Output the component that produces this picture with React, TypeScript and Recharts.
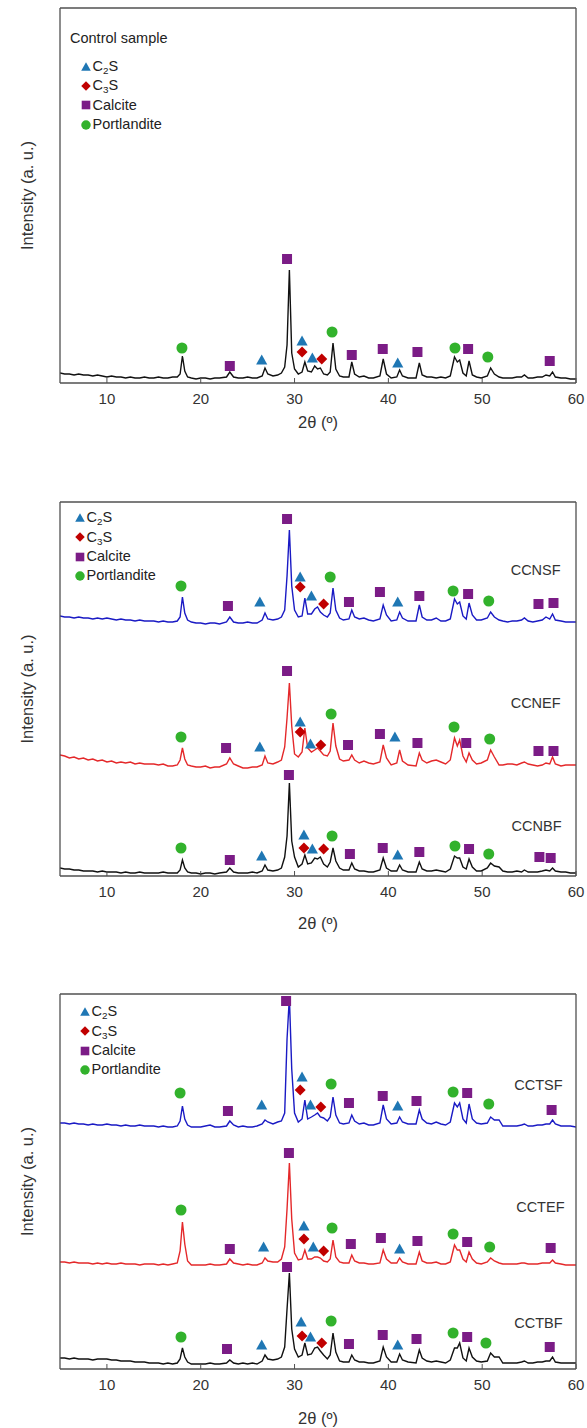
import React from 'react';
import { ComposedChart, Line, Scatter, XAxis, YAxis, Legend } from 'recharts';

const FONT = '"Liberation Sans", Arial, Helvetica, sans-serif';
const FRAME = '#505050';

// 2θ grid shared by every diffractogram
const TWO_THETA = [
  5, 5.5, 6, 6.5, 7, 7.5, 8, 8.5, 9, 9.5,
  10, 10.5, 11, 11.5, 12, 12.5, 13, 13.5, 14, 14.5,
  15, 15.5, 16, 16.5, 17, 17.5, 17.8, 18.05, 18.3, 18.6,
  19, 19.5, 20, 20.5, 21, 21.5, 22, 22.75, 23.1, 23.5,
  24, 24.5, 25, 25.5, 26, 26.55, 26.85, 27.15, 27.7, 28.2,
  28.6, 28.95, 29.2, 29.45, 29.7, 30, 30.4, 30.8, 31.1, 31.4,
  31.8, 32.15, 32.45, 32.75, 33.1, 33.5, 33.8, 34.1, 34.4, 34.8,
  35.2, 35.8, 36.1, 36.4, 36.9, 37.4, 37.9, 38.4, 39.1, 39.45,
  39.8, 40.3, 40.9, 41.2, 41.5, 42.1, 42.95, 43.3, 43.6, 44.1,
  44.6, 45.1, 45.6, 46.1, 46.6, 47.05, 47.35, 47.6, 47.95, 48.3,
  48.6, 48.95, 49.4, 49.9, 50.55, 50.9, 51.3, 51.8, 52.2, 52.7,
  53.2, 53.7, 54.2, 54.5, 54.9, 55.4, 55.9, 56.4, 56.8, 57.2,
  57.5, 57.8, 58.4, 58.9, 59.4, 60,
];

// intensities (a. u.), stacked patterns already include their vertical offset
const CONTROL = [
  10, 9, 9, 8, 9, 8, 8, 7, 8, 7,
  6, 7, 6, 6, 5, 6, 5, 5, 6, 5,
  5, 6, 5, 5, 6, 6, 9, 27, 12, 6,
  5, 4, 5, 5, 4, 5, 5, 6, 11, 6,
  5, 5, 6, 5, 5, 7, 15, 9, 7, 8,
  10, 16, 38, 113, 30, 14, 9, 11, 21, 12,
  11, 17, 14, 15, 9, 8, 11, 40, 14, 7,
  6, 6, 21, 9, 6, 7, 5, 5, 7, 24,
  9, 5, 6, 13, 7, 5, 5, 20, 8, 6,
  6, 5, 6, 5, 7, 26, 21, 23, 10, 7,
  22, 8, 6, 5, 7, 15, 9, 6, 5, 5,
  5, 6, 6, 8, 5, 5, 6, 6, 8, 7,
  11, 6, 5, 5, 4, 4,
];

const CCNSF = [
  260, 259, 259, 258, 259, 258, 258, 257, 258, 257,
  258, 257, 256, 257, 256, 256, 255, 256, 255, 255,
  255, 254, 255, 254, 254, 255, 259, 279, 263, 256,
  254, 253, 253, 252, 253, 253, 252, 254, 259, 254,
  253, 253, 254, 253, 253, 256, 263, 257, 256, 257,
  259, 266, 300, 346, 290, 266, 259, 260, 278, 262,
  262, 267, 269, 264, 261, 259, 263, 288, 266, 258,
  256, 257, 266, 259, 257, 258, 256, 255, 257, 271,
  261, 255, 256, 264, 258, 255, 255, 271, 259, 256,
  256, 258, 255, 255, 257, 277, 272, 274, 260, 257,
  273, 261, 256, 256, 258, 264, 259, 256, 255, 254,
  255, 255, 256, 258, 255, 254, 255, 256, 259, 257,
  262, 256, 255, 254, 254, 254,
];

const CCNEF = [
  121, 120, 118, 119, 117, 118, 116, 117, 115, 116,
  114, 115, 113, 114, 113, 114, 112, 113, 112, 112,
  112, 111, 112, 110, 110, 111, 116, 128, 117, 111,
  110, 109, 109, 110, 108, 109, 109, 112, 118, 112,
  110, 108, 108, 109, 109, 111, 120, 113, 112, 114,
  116, 129, 158, 193, 150, 122, 119, 124, 148, 128,
  124, 126, 128, 125, 121, 120, 125, 153, 130, 117,
  115, 116, 121, 116, 113, 115, 113, 112, 114, 131,
  118, 111, 113, 126, 115, 111, 110, 123, 116, 113,
  115, 116, 114, 112, 116, 138, 130, 136, 120, 114,
  123, 116, 112, 113, 116, 126, 119, 111, 111, 112,
  112, 111, 113, 114, 112, 111, 110, 111, 113, 112,
  119, 112, 110, 111, 111, 111,
];

const CCNBF = [
  8, 7, 7, 6, 6, 5, 5, 5, 4, 5,
  4, 4, 4, 3, 4, 3, 3, 4, 3, 3,
  3, 3, 4, 3, 3, 3, 6, 16, 8, 4,
  3, 3, 2, 3, 3, 2, 3, 4, 8, 4,
  3, 3, 3, 4, 3, 5, 11, 6, 5, 6,
  8, 19, 40, 93, 35, 19, 9, 12, 21, 12,
  13, 18, 17, 19, 12, 9, 14, 28, 15, 8,
  6, 6, 13, 7, 5, 5, 4, 4, 6, 18,
  8, 5, 5, 11, 6, 4, 4, 14, 7, 5,
  5, 6, 5, 4, 7, 20, 18, 18, 9, 7,
  17, 9, 5, 5, 8, 13, 10, 9, 5, 4,
  4, 5, 4, 6, 4, 4, 4, 5, 6, 5,
  8, 5, 4, 4, 3, 3,
];

const CCTSF = [
  246, 246, 245, 246, 245, 245, 244, 245, 244, 244,
  245, 244, 244, 243, 244, 243, 243, 244, 243, 243,
  243, 242, 243, 242, 242, 243, 248, 263, 250, 244,
  242, 242, 242, 243, 244, 242, 242, 243, 248, 244,
  242, 243, 242, 242, 243, 245, 249, 247, 245, 247,
  248, 256, 330, 372, 300, 256, 247, 250, 269, 250,
  252, 254, 256, 252, 251, 248, 252, 272, 254, 246,
  245, 246, 254, 248, 245, 246, 244, 244, 246, 264,
  250, 245, 246, 252, 247, 245, 245, 259, 250, 246,
  245, 247, 245, 244, 247, 266, 262, 266, 250, 246,
  265, 250, 246, 245, 246, 252, 249, 249, 243, 243,
  243, 243, 244, 245, 243, 243, 244, 244, 245, 245,
  249, 245, 243, 243, 243, 242,
];

const CCTEF = [
  107, 107, 106, 107, 106, 106, 106, 105, 106, 105,
  106, 105, 105, 106, 105, 105, 105, 104, 105, 105,
  105, 104, 105, 104, 105, 106, 118, 147, 125, 108,
  104, 104, 104, 104, 105, 104, 104, 105, 110, 106,
  105, 104, 105, 104, 104, 106, 111, 108, 107, 107,
  110, 122, 160, 206, 150, 116, 109, 110, 119, 110,
  110, 112, 112, 111, 108, 107, 110, 129, 112, 107,
  106, 106, 114, 108, 106, 106, 105, 105, 106, 119,
  110, 106, 106, 111, 107, 105, 105, 117, 108, 106,
  106, 107, 105, 105, 107, 124, 119, 119, 110, 107,
  117, 110, 106, 105, 107, 111, 108, 106, 105, 105,
  105, 105, 106, 106, 105, 105, 105, 106, 106, 106,
  109, 106, 105, 104, 104, 104,
];

const CCTBF = [
  11, 11, 10, 11, 10, 10, 10, 9, 10, 10,
  10, 9, 9, 8, 8, 8, 7, 7, 7, 6,
  6, 6, 5, 6, 5, 6, 10, 21, 12, 7,
  5, 5, 5, 5, 6, 5, 5, 6, 9, 6,
  5, 6, 5, 6, 5, 8, 14, 10, 9, 10,
  12, 22, 60, 96, 40, 20, 12, 14, 26, 14,
  15, 21, 22, 18, 14, 10, 14, 36, 17, 8,
  7, 7, 14, 9, 7, 7, 6, 6, 8, 22,
  12, 7, 7, 15, 9, 7, 6, 19, 11, 8,
  7, 8, 7, 6, 9, 21, 21, 26, 11, 8,
  21, 12, 8, 7, 8, 16, 12, 12, 6, 6,
  6, 6, 7, 8, 6, 6, 7, 7, 8, 8,
  12, 7, 6, 6, 6, 6,
];

const MAJOR_TICKS = [10, 20, 30, 40, 50, 60];
const MINOR_TICKS = [6, 8, 12, 14, 16, 18, 22, 24, 26, 28, 32, 34, 36, 38, 42, 44, 46, 48, 52, 54, 56, 58];

type Pt = [number, number];

// phase identification markers [2θ, height]
const CTRL_C2S: Pt[] = [[26.5, 23], [30.8, 42], [31.9, 25], [41.0, 20]];
const CTRL_C3S: Pt[] = [[30.8, 31], [32.9, 24]];
const CTRL_CAL: Pt[] = [[23.1, 17], [29.2, 124], [36.1, 28], [39.4, 34], [43.1, 31], [48.5, 34], [57.2, 22]];
const CTRL_POR: Pt[] = [[18.0, 35], [34.0, 51], [47.1, 35], [50.6, 26]];

const NSF_C2S: Pt[] = [[26.3, 274], [30.6, 299], [31.8, 280], [41.0, 274]];
const NSF_C3S: Pt[] = [[30.6, 289], [33.1, 272]];
const NSF_CAL: Pt[] = [[22.9, 270], [29.2, 357], [35.8, 274], [39.1, 284], [43.3, 280], [48.5, 282], [56.0, 272], [57.6, 273]];
const NSF_POR: Pt[] = [[17.9, 290], [33.8, 299], [46.9, 285], [50.7, 275]];
const NEF_C2S: Pt[] = [[26.3, 129], [30.6, 154], [31.7, 132], [40.7, 139]];
const NEF_C3S: Pt[] = [[30.6, 144], [32.8, 131]];
const NEF_CAL: Pt[] = [[22.7, 128], [29.2, 205], [35.7, 131], [39.1, 142], [43.1, 133], [48.3, 133], [56.0, 125], [57.6, 125]];
const NEF_POR: Pt[] = [[17.9, 139], [33.9, 162], [47.0, 149], [50.8, 137]];
const NBF_C2S: Pt[] = [[26.5, 20], [31.0, 41], [31.9, 27], [41.0, 21]];
const NBF_C3S: Pt[] = [[31.0, 28], [33.1, 27]];
const NBF_CAL: Pt[] = [[23.1, 16], [29.4, 101], [35.9, 22], [39.4, 28], [43.3, 24], [48.6, 27], [56.1, 19], [57.3, 18]];
const NBF_POR: Pt[] = [[17.9, 28], [34.0, 40], [47.1, 30], [50.7, 22]];

const TSF_C2S: Pt[] = [[26.5, 264], [30.8, 292], [31.7, 264], [41.0, 263]];
const TSF_C3S: Pt[] = [[30.6, 279], [32.8, 262]];
const TSF_CAL: Pt[] = [[22.9, 258], [29.1, 368], [35.8, 266], [39.4, 273], [43.0, 268], [48.4, 276], [57.4, 259]];
const TSF_POR: Pt[] = [[17.8, 276], [33.9, 285], [46.9, 277], [50.7, 265]];
const TEF_C2S: Pt[] = [[26.7, 122], [31.0, 143], [32.0, 122], [41.2, 120]];
const TEF_C3S: Pt[] = [[31.0, 130], [33.1, 118]];
const TEF_CAL: Pt[] = [[23.1, 120], [29.4, 216], [36.0, 125], [39.2, 131], [43.1, 128], [48.4, 127], [57.3, 121]];
const TEF_POR: Pt[] = [[17.9, 159], [34.0, 141], [46.9, 135], [50.8, 122]];
const TBF_C2S: Pt[] = [[26.5, 24], [30.7, 47], [31.7, 32], [41.0, 24]];
const TBF_C3S: Pt[] = [[30.8, 33], [32.9, 26]];
const TBF_CAL: Pt[] = [[22.8, 20], [29.2, 102], [35.8, 25], [39.4, 34], [43.0, 30], [48.4, 32], [57.2, 22]];
const TBF_POR: Pt[] = [[17.9, 32], [33.9, 48], [46.9, 36], [50.4, 26]];

const PHASE_NAMES = ['C2S', 'C3S', 'Calcite', 'Portlandite'];
type Kind = 'tri' | 'dia' | 'sq' | 'circ';
const PHASE_KINDS: Kind[] = ['tri', 'dia', 'sq', 'circ'];
const PHASE_COLORS = ['#1f77b4', '#c00000', '#7b1c86', '#32b22c'];

const SAMPLE_NAMES_N = ['CCNSF', 'CCNEF', 'CCNBF'];
const SAMPLE_NAMES_T = ['CCTSF', 'CCTEF', 'CCTBF'];
const LABEL_POS_N: Pt[] = [[55.7, 306], [55.7, 173], [55.8, 50]];
const LABEL_POS_T: Pt[] = [[56.0, 284], [56.2, 162], [56.0, 46]];

function PhaseMarker({ kind, cx, cy, s }: { kind: Kind; cx: number; cy: number; s: number }) {
  const color = PHASE_COLORS[PHASE_KINDS.indexOf(kind)];
  if (kind === 'tri') {
    return <polygon points={`${cx},${cy - 5.5 * s} ${cx + 5.6 * s},${cy + 4.5 * s} ${cx - 5.6 * s},${cy + 4.5 * s}`} fill={color} />;
  }
  if (kind === 'dia') {
    return <polygon points={`${cx},${cy - 5.5 * s} ${cx + 5.5 * s},${cy} ${cx},${cy + 5.5 * s} ${cx - 5.5 * s},${cy}`} fill={color} />;
  }
  if (kind === 'sq') {
    return <rect x={cx - 5 * s} y={cy - 5 * s} width={10 * s} height={10 * s} fill={color} />;
  }
  return <circle cx={cx} cy={cy} r={5.5 * s} fill={color} />;
}

function PhaseLabel({ name }: { name: string }) {
  const m = /^C(\d)S$/.exec(name);
  if (m) {
    return (
      <span>
        C<sub style={{ fontSize: '0.68em', verticalAlign: '-0.3em', lineHeight: 0 }}>{m[1]}</sub>S
      </span>
    );
  }
  return <span>{name}</span>;
}

function LegendBox({ title, indent }: { title?: string; indent: number }) {
  return (
    <div style={{ fontFamily: FONT, fontSize: 14.5, color: '#222', whiteSpace: 'nowrap' }}>
      {title ? <div style={{ height: 19.5, lineHeight: '19.5px', marginBottom: 8.2 }}>{title}</div> : null}
      {PHASE_NAMES.map((n, i) => (
        <div key={n} style={{ display: 'flex', alignItems: 'center', height: 19.3, paddingLeft: indent }}>
          <svg width={10} height={10} style={{ display: 'block', flex: 'none' }}>
            <PhaseMarker kind={PHASE_KINDS[i]} cx={5} cy={5} s={0.86} />
          </svg>
          <span style={{ marginLeft: 1.5, lineHeight: '19px' }}>
            <PhaseLabel name={n} />
          </span>
        </div>
      ))}
    </div>
  );
}

interface PanelCfg {
  top: number;
  height: number;
  plotTop: number;
  plotH: number;
  axisH: number;
  xTitleY: number;
  curves: { values: number[]; color: string }[];
  markers: Pt[][]; // per phase
  labels: { name: string; pos: Pt }[];
  legend: { left: number; top: number; title?: string; indent: number };
}

const PANELS: PanelCfg[] = [
  {
    top: 0, height: 440, plotTop: 8, plotH: 375, axisH: 57, xTitleY: 422,
    curves: [{ values: CONTROL, color: '#111111' }],
    markers: [CTRL_C2S, CTRL_C3S, CTRL_CAL, CTRL_POR],
    labels: [],
    legend: { left: 70, top: 29.3, title: 'Control sample', indent: 11 },
  },
  {
    top: 470, height: 470, plotTop: 32, plotH: 374, axisH: 64, xTitleY: 923 - 470,
    curves: [
      { values: CCNSF, color: '#1a1ac4' },
      { values: CCNEF, color: '#e4282a' },
      { values: CCNBF, color: '#111111' },
    ],
    markers: [
      [...NSF_C2S, ...NEF_C2S, ...NBF_C2S],
      [...NSF_C3S, ...NEF_C3S, ...NBF_C3S],
      [...NSF_CAL, ...NEF_CAL, ...NBF_CAL],
      [...NSF_POR, ...NEF_POR, ...NBF_POR],
    ],
    labels: SAMPLE_NAMES_N.map((name, i) => ({ name, pos: LABEL_POS_N[i] })),
    legend: { left: 75, top: 38.3, indent: 0 },
  },
  {
    top: 960, height: 468, plotTop: 34, plotH: 375, axisH: 59, xTitleY: 1418 - 960,
    curves: [
      { values: CCTSF, color: '#1a1ac4' },
      { values: CCTEF, color: '#e4282a' },
      { values: CCTBF, color: '#111111' },
    ],
    markers: [
      [...TSF_C2S, ...TEF_C2S, ...TBF_C2S],
      [...TSF_C3S, ...TEF_C3S, ...TBF_C3S],
      [...TSF_CAL, ...TEF_CAL, ...TBF_CAL],
      [...TSF_POR, ...TEF_POR, ...TBF_POR],
    ],
    labels: SAMPLE_NAMES_T.map((name, i) => ({ name, pos: LABEL_POS_T[i] })),
    legend: { left: 80, top: 42.3, indent: 0 },
  },
];

const CHART_W = 587;
const MARGIN_L = 60;
const MARGIN_R = 11;

function Panel({ cfg }: { cfg: PanelCfg }) {
  const plotCx = MARGIN_L + (CHART_W - MARGIN_L - MARGIN_R) / 2;
  const plotCy = cfg.plotTop + cfg.plotH / 2;
  const yTitle = () => (
    <text
      x={27}
      y={plotCy}
      transform={`rotate(-90 27 ${plotCy})`}
      textAnchor="middle"
      dominantBaseline="central"
      fill="#333"
      fontSize={16.5}
      fontFamily={FONT}
    >
      Intensity (a. u.)
    </text>
  );
  const xTitle = () => (
    <text x={plotCx} y={cfg.xTitleY} textAnchor="middle" dominantBaseline="central" fill="#333" fontSize={16.5} fontFamily={FONT}>
      2θ (º)
    </text>
  );
  const blank = () => '';
  return (
    <div style={{ position: 'absolute', left: 0, top: cfg.top, width: CHART_W, height: cfg.height }}>
      <ComposedChart
        width={CHART_W}
        height={cfg.height}
        margin={{ top: cfg.plotTop, right: MARGIN_R, left: MARGIN_L, bottom: 0 }}
      >
        <XAxis
          xAxisId="main"
          dataKey="x"
          type="number"
          domain={[5, 60]}
          allowDataOverflow
          ticks={MAJOR_TICKS}
          interval={0}
          height={cfg.axisH}
          tickSize={-5}
          tickMargin={15}
          axisLine={{ stroke: FRAME, strokeWidth: 1.3 }}
          tickLine={{ stroke: FRAME, strokeWidth: 1 }}
          tick={{ fill: '#333', fontSize: 15, fontFamily: FONT }}
          label={xTitle}
        />
        <XAxis
          xAxisId="minorB"
          type="number"
          domain={[5, 60]}
          allowDataOverflow
          ticks={MINOR_TICKS}
          interval={0}
          mirror
          height={1}
          tickSize={3}
          axisLine={false}
          tickLine={{ stroke: FRAME, strokeWidth: 1 }}
          tickFormatter={blank}
        />
        <XAxis
          xAxisId="majorT"
          orientation="top"
          type="number"
          domain={[5, 60]}
          allowDataOverflow
          ticks={MAJOR_TICKS}
          interval={0}
          mirror
          height={1}
          tickSize={5}
          axisLine={{ stroke: FRAME, strokeWidth: 1.3 }}
          tickLine={{ stroke: FRAME, strokeWidth: 1 }}
          tickFormatter={blank}
        />
        <XAxis
          xAxisId="minorT"
          orientation="top"
          type="number"
          domain={[5, 60]}
          allowDataOverflow
          ticks={MINOR_TICKS}
          interval={0}
          mirror
          height={1}
          tickSize={3}
          axisLine={false}
          tickLine={{ stroke: FRAME, strokeWidth: 1 }}
          tickFormatter={blank}
        />
        <YAxis
          yAxisId="main"
          dataKey="y"
          type="number"
          domain={[0, cfg.plotH]}
          allowDataOverflow
          mirror
          width={1}
          tickLine={false}
          ticks={[]}
          tickFormatter={blank}
          axisLine={{ stroke: FRAME, strokeWidth: 1.3 }}
          label={yTitle}
        />
        <YAxis
          yAxisId="right"
          orientation="right"
          type="number"
          domain={[0, cfg.plotH]}
          allowDataOverflow
          mirror
          width={1}
          tickLine={false}
          ticks={[]}
          tickFormatter={blank}
          axisLine={{ stroke: FRAME, strokeWidth: 1.3 }}
        />
        <Legend
          layout="horizontal"
          verticalAlign="middle"
          align="center"
          wrapperStyle={{ left: cfg.legend.left, top: cfg.legend.top, width: 200, height: 'auto' }}
          content={() => <LegendBox title={cfg.legend.title} indent={cfg.legend.indent} />}
        />
        {cfg.curves.map((c, i) => (
          <Line
            key={`c${i}`}
            xAxisId="main"
            yAxisId="main"
            data={TWO_THETA.map((x, k) => ({ x, y: c.values[k] }))}
            dataKey="y"
            type="linear"
            stroke={c.color}
            strokeWidth={1.4}
            dot={false}
            activeDot={false}
            isAnimationActive={false}
            legendType="none"
          />
        ))}
        {cfg.markers.map((pts, i) => (
          <Scatter
            key={`m${i}`}
            name={PHASE_NAMES[i]}
            xAxisId="main"
            yAxisId="main"
            data={pts.map(([x, y]) => ({ x, y }))}
            isAnimationActive={false}
            shape={(p: any) => <PhaseMarker kind={PHASE_KINDS[i]} cx={p.cx} cy={p.cy} s={1} />}
          />
        ))}
        {cfg.labels.length > 0 && (
          <Scatter
            xAxisId="main"
            yAxisId="main"
            data={cfg.labels.map((l) => ({ x: l.pos[0], y: l.pos[1], name: l.name }))}
            isAnimationActive={false}
            legendType="none"
            shape={(p: any) => (
              <text x={p.cx} y={p.cy} textAnchor="middle" dominantBaseline="central" fill="#333" fontSize={14.5} fontFamily={FONT}>
                {p.payload?.name}
              </text>
            )}
          />
        )}
      </ComposedChart>
    </div>
  );
}

export default function App() {
  return (
    <div style={{ position: 'absolute', left: 0, top: 0, width: 587, height: 1428, background: '#fff' }}>
      {PANELS.map((p, i) => (
        <Panel key={i} cfg={p} />
      ))}
    </div>
  );
}
